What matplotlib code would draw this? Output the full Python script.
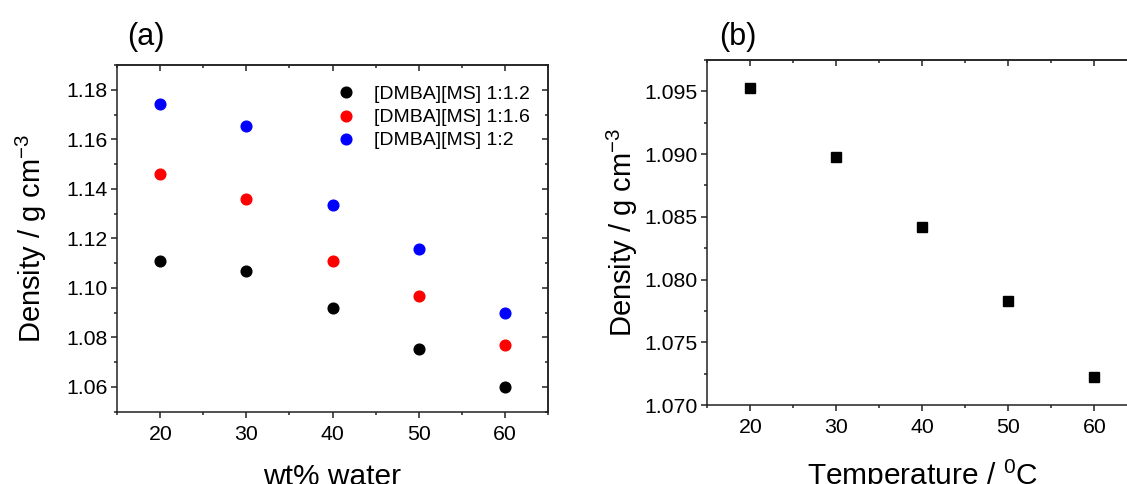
import matplotlib
matplotlib.use("Agg")
import matplotlib.pyplot as plt
from matplotlib.ticker import MultipleLocator, FormatStrFormatter


# Data

water_wt = [20, 30, 40, 50, 60]
dens_12 = [1.1108, 1.1069, 1.0918, 1.0755, 1.0601]   # [DMBA][MS] 1:1.2
dens_16 = [1.1460, 1.1359, 1.1110, 1.0967, 1.0771]   # [DMBA][MS] 1:1.6
dens_20 = [1.1743, 1.1652, 1.1336, 1.1156, 1.0899]   # [DMBA][MS] 1:2
series_labels = ["[DMBA][MS] 1:1.2", "[DMBA][MS] 1:1.6", "[DMBA][MS] 1:2"]
series_colors = ["black", "red", "blue"]

temp_c = [20, 30, 40, 50, 60]
dens_temp = [1.0953, 1.0898, 1.0842, 1.0783, 1.0722]


plt.rcParams["font.family"] = ["Liberation Sans", "DejaVu Sans"]
plt.rcParams["axes.linewidth"] = 1.1
plt.rcParams["mathtext.fontset"] = "custom"
plt.rcParams["mathtext.rm"] = "Liberation Sans"
plt.rcParams["mathtext.default"] = "rm"

AX_COL = "#222222"

fig = plt.figure(figsize=(11.27, 4.84), dpi=100)
ax_a = fig.add_axes([0.1041, 0.1494, 0.3819, 0.7163])
ax_b = fig.add_axes([0.6276, 0.1632, 0.3815, 0.7128])


def set_ticks(ax, ymaj, ymin, yfmt):
    ax.xaxis.set_major_locator(MultipleLocator(10))
    ax.xaxis.set_minor_locator(MultipleLocator(5))
    ax.yaxis.set_major_locator(MultipleLocator(ymaj))
    ax.yaxis.set_minor_locator(MultipleLocator(ymin))
    ax.yaxis.set_major_formatter(FormatStrFormatter(yfmt))
    ax.tick_params(which="both", direction="out", labelsize=15.3, width=1.1,
                   color=AX_COL)
    ax.tick_params(axis="x", pad=5)
    ax.tick_params(axis="y", pad=2.5)
    ax.tick_params(which="major", length=4.5)
    ax.tick_params(which="minor", length=2.5)
    for sp in ax.spines.values():
        sp.set_color(AX_COL)

    # inward ticks on the top and right sides, no labels
    top = ax.secondary_xaxis("top")
    top.xaxis.set_major_locator(MultipleLocator(10))
    top.xaxis.set_minor_locator(MultipleLocator(5))
    top.tick_params(which="both", direction="in", labeltop=False, width=1.1,
                    color=AX_COL)
    top.tick_params(which="major", length=4.5)
    top.tick_params(which="minor", length=2.5)
    top.spines["top"].set_color(AX_COL)

    right = ax.secondary_yaxis("right")
    right.yaxis.set_major_locator(MultipleLocator(ymaj))
    right.yaxis.set_minor_locator(MultipleLocator(ymin))
    right.tick_params(which="both", direction="in", labelright=False, width=1.1,
                      color=AX_COL)
    right.tick_params(which="major", length=4.5)
    right.tick_params(which="minor", length=2.5)
    right.spines["right"].set_color(AX_COL)


# (a) density vs water content
for vals, col, lab in zip([dens_12, dens_16, dens_20], series_colors, series_labels):
    ax_a.plot(water_wt, vals, "o", color=col, markersize=7.7, label=lab)

ax_a.set_xlim(15, 65)
ax_a.set_ylim(1.05, 1.19)
set_ticks(ax_a, 0.02, 0.01, "%.2f")
ax_a.set_xlabel("wt% water", fontsize=21.5)
ax_a.xaxis.set_label_coords(0.5, -0.148)
ax_a.set_ylabel("Density / g cm$^{-3}$", fontsize=21)
ax_a.yaxis.set_label_coords(-0.158, 0.5)
ax_a.legend(loc="upper left", bbox_to_anchor=(0.4817, 0.963), frameon=False,
            fontsize=14, handlelength=1.4, handletextpad=0.74,
            labelspacing=0.283, borderpad=0.4, borderaxespad=0.0)

# (b) density vs temperature
ax_b.plot(temp_c, dens_temp, "s", color="black", markersize=7.4)
ax_b.set_xlim(15, 65)
ax_b.set_ylim(1.070, 1.0975)
set_ticks(ax_b, 0.005, 0.0025, "%.3f")
ax_b.set_xlabel("Temperature / $^{0}$C", fontsize=21.5)
ax_b.xaxis.set_label_coords(0.5, -0.154)
ax_b.set_ylabel("Density / g cm$^{-3}$", fontsize=21)
ax_b.yaxis.set_label_coords(-0.157, 0.5)

# panel letters
fig.text(146 / 1127, 1 - 37 / 484, "(a)", fontsize=22, ha="center", va="center")
fig.text(738 / 1127, 1 - 37 / 484, "(b)", fontsize=22, ha="center", va="center")

fig.savefig("out.png", dpi=100)
